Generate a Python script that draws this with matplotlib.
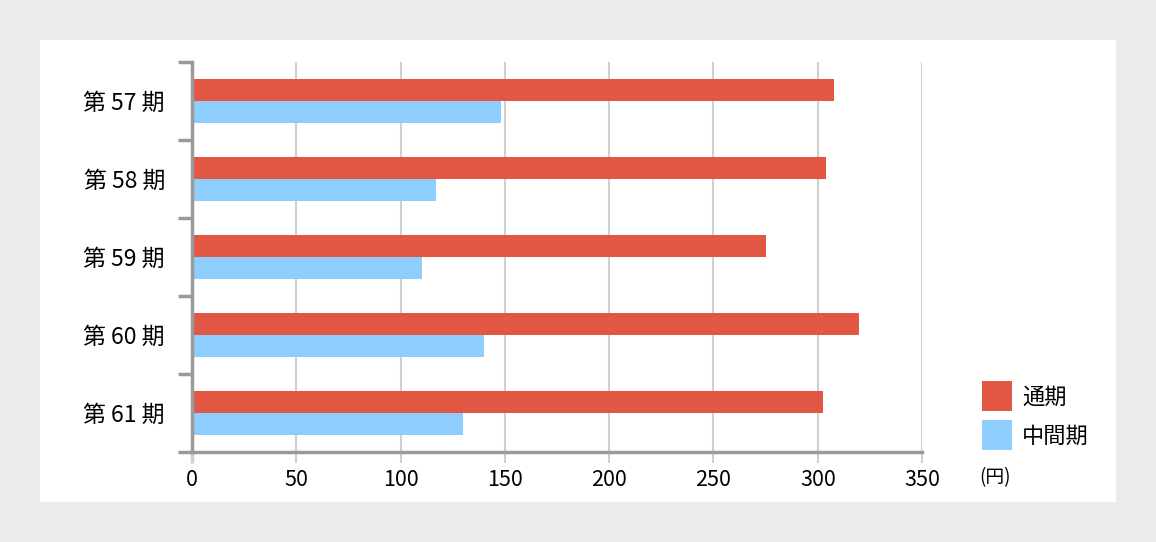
import numpy as np
import matplotlib
matplotlib.use('Agg')
import matplotlib.pyplot as plt
from matplotlib.patches import Rectangle

plt.rcParams['font.family'] = ['Noto Sans CJK JP', 'DejaVu Sans']

# data (円)
periods = ['第 57 期', '第 58 期', '第 59 期', '第 60 期', '第 61 期']
full_year = [308, 304, 275, 320, 302.5]
interim = [148, 117, 110.5, 140, 130]
series_names = ['通期', '中間期']
x_ticks = [0, 50, 100, 150, 200, 250, 300, 350]

RED = '#e15744'
BLUE = '#8dceff'
SPINE = '#9a9a9a'
GRID = '#cfcfcf'

W, H = 1156, 542
fig = plt.figure(figsize=(W / 100, H / 100), dpi=100, facecolor='#ecebea')

# white panel behind the chart
fig.patches.append(Rectangle((40 / W, 1 - 502 / H), (1116 - 40) / W, (502 - 40) / H,
                             transform=fig.transFigure, facecolor='white',
                             edgecolor='none', zorder=-5))

ax = fig.add_axes([192 / W, 1 - 452 / H, (922 - 192) / W, (452 - 62) / H])
ax.set_facecolor('none')

y = np.arange(len(periods))
h = 0.285
ax.barh(y - h / 2, full_year, height=h, color=RED, label=series_names[0], zorder=3)
ax.barh(y + h / 2, interim, height=h, color=BLUE, label=series_names[1], zorder=3)

ax.set_xlim(0, 350)
ax.set_ylim(len(periods) - 0.5, -0.5)

# x axis
ax.set_xticks(x_ticks)
ax.set_xticklabels([str(v) for v in x_ticks], fontsize=15.5)
ax.tick_params(axis='x', length=8, width=1.5, color=GRID, pad=4)
ax.xaxis.get_major_ticks()[0].tick1line.set_color(SPINE)
ax.xaxis.get_major_ticks()[0].tick1line.set_markeredgewidth(2.5)
ax.grid(axis='x', color=GRID, linewidth=1.5, zorder=0)

# y axis: ticks at band boundaries, labels at centres
ax.set_yticks(np.arange(len(periods) + 1) - 0.5)
ax.set_yticklabels([])
ax.set_yticks(y, minor=True)
ax.set_yticklabels(periods, minor=True, fontsize=16.5)
ax.tick_params(axis='y', which='major', length=10, width=2.5, color=SPINE)
ax.tick_params(axis='y', which='minor', length=0, pad=19.5)

for s in ['top', 'right']:
    ax.spines[s].set_visible(False)
for s in ['left', 'bottom']:
    ax.spines[s].set_color(SPINE)
    ax.spines[s].set_linewidth(2.5)
    ax.spines[s].set_zorder(4)

leg = ax.legend(loc='upper left', bbox_to_anchor=(982 / W, 1 - 381 / H),
                bbox_transform=fig.transFigure, frameon=False, fontsize=16,
                handlelength=1.36, handleheight=1.72, handletextpad=0.45,
                labelspacing=0.4, borderpad=0, borderaxespad=0)

fig.text(995 / W, 1 - 478 / H, '(円)', fontsize=13.5, ha='center', va='center')

fig.savefig('out.png', dpi=100, facecolor=fig.get_facecolor())
